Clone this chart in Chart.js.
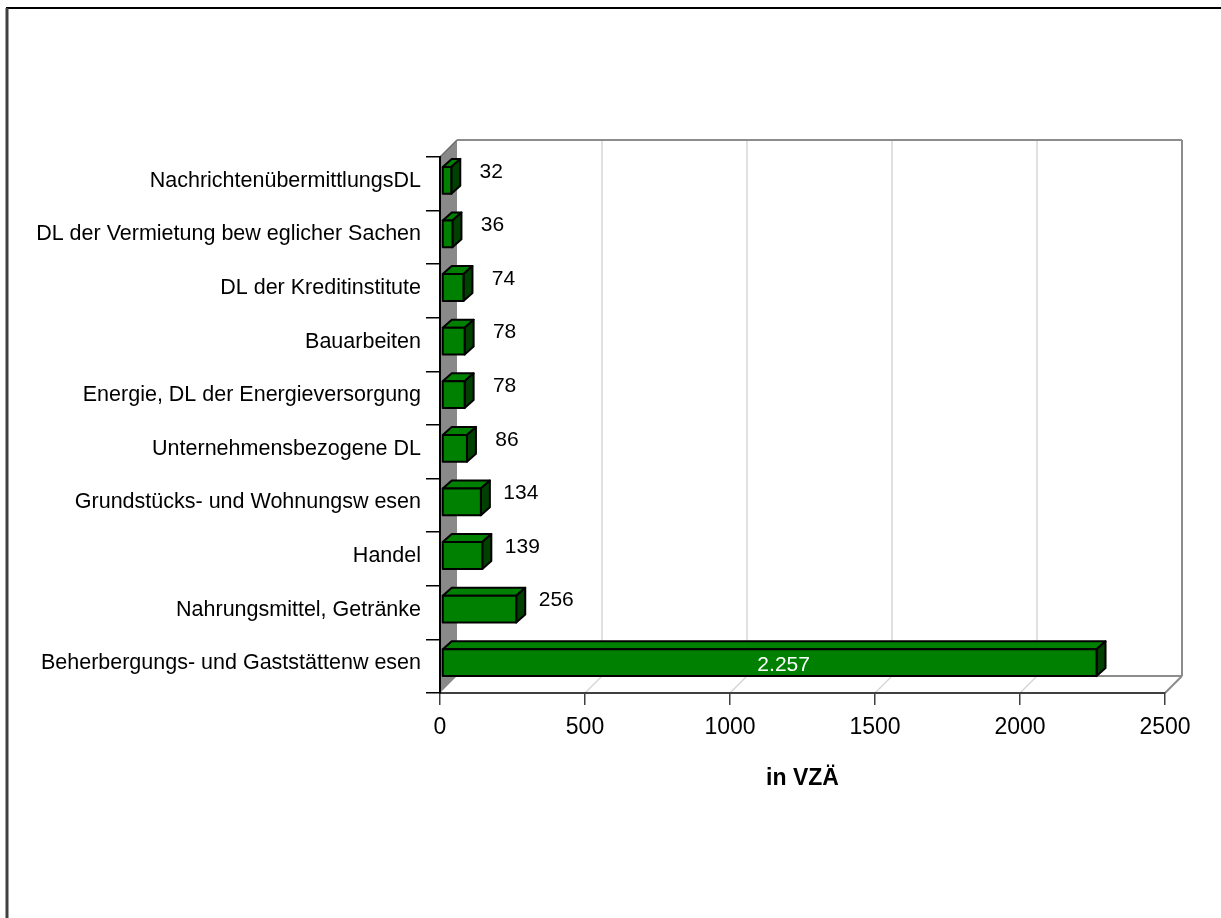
<!DOCTYPE html>
<html lang="de">
<head>
<meta charset="utf-8">
<title>Beschäftigung nach Branchen</title>
<script src="https://cdn.jsdelivr.net/npm/chart.js@4.4.1/dist/chart.umd.min.js"></script>
<style>
  html, body { margin: 0; padding: 0; background: #ffffff; }
  #chart { display: block; }
</style>
</head>
<body>
<canvas id="chart" width="1221" height="918"></canvas>
<script>
// ===== Daten =====
const branchen = [
  "NachrichtenübermittlungsDL",
  "DL der Vermietung bew eglicher Sachen",
  "DL der Kreditinstitute",
  "Bauarbeiten",
  "Energie, DL der Energieversorgung",
  "Unternehmensbezogene DL",
  "Grundstücks- und Wohnungsw esen",
  "Handel",
  "Nahrungsmittel, Getränke",
  "Beherbergungs- und Gaststättenw esen"
];
const vzae = [32, 36, 74, 78, 78, 86, 134, 139, 256, 2257];
const achseMin = 0;
const achseMax = 2500;
const achseSchritt = 500;

const FONT = "'Liberation Sans', Arial, sans-serif";
const TIEFE = 17;        // Versatz der Rückwand
const BAR_TIEFE = { dx: 9, dy: -8 };
const BAR_VERSATZ = { dx: 2, dy: -3.5 };

// Tausenderpunkt wie im deutschen Format
function formatZahl(v) {
  return String(v).replace(/\B(?=(\d{3})+(?!\d))/g, ".");
}

function linie(ctx, x1, y1, x2, y2, farbe, breite) {
  ctx.beginPath();
  ctx.moveTo(x1, y1);
  ctx.lineTo(x2, y2);
  ctx.strokeStyle = farbe;
  ctx.lineWidth = breite;
  ctx.stroke();
}

// ===== Rahmen, Wände und Boden (Pseudo-3D) =====
const rahmen3d = {
  id: "rahmen3d",
  beforeDraw(chart) {
    const { ctx, chartArea: a, scales } = chart;
    ctx.save();
    ctx.fillStyle = "#ffffff";
    ctx.fillRect(0, 0, chart.width, chart.height);

    // äußerer Rahmen
    linie(ctx, 6, 8, chart.width, 8, "#000000", 2);
    linie(ctx, 7, 8, 7, chart.height, "#404040", 3);

    const xs = scales.x;
    const ticks = xs.ticks.map((t) => xs.getPixelForValue(t.value));

    // Gitterlinien an der Rückwand und am Boden
    ticks.forEach((px, i) => {
      if (i === 0) return;
      if (i < ticks.length - 1) {
        linie(ctx, px + TIEFE, a.top - TIEFE, px + TIEFE, a.bottom - TIEFE, "#d6d6d6", 1.5);
      }
      linie(ctx, px, a.bottom, px + TIEFE, a.bottom - TIEFE, "#d6d6d6", 1.5);
    });

    // Rückwand-Kanten
    linie(ctx, a.left + TIEFE, a.top - TIEFE, a.right + TIEFE, a.top - TIEFE, "#8c8c8c", 2);
    linie(ctx, a.right + TIEFE, a.top - TIEFE, a.right + TIEFE, a.bottom - TIEFE, "#8c8c8c", 2);
    linie(ctx, a.left + TIEFE, a.bottom - TIEFE, a.right + TIEFE, a.bottom - TIEFE, "#8c8c8c", 2);
    linie(ctx, a.right, a.bottom, a.right + TIEFE, a.bottom - TIEFE, "#8c8c8c", 2);

    // linke Seitenwand
    ctx.beginPath();
    ctx.moveTo(a.left, a.top);
    ctx.lineTo(a.left + TIEFE, a.top - TIEFE);
    ctx.lineTo(a.left + TIEFE, a.bottom - TIEFE);
    ctx.lineTo(a.left, a.bottom);
    ctx.closePath();
    ctx.fillStyle = "#898989";
    ctx.fill();
    linie(ctx, a.left, a.top, a.left + TIEFE, a.top - TIEFE, "#6e6e6e", 1.5);
    ctx.restore();
  },

  // ===== Balken mit Ober- und Seitenfläche =====
  afterDatasetsDraw(chart) {
    const { ctx } = chart;
    const meta = chart.getDatasetMeta(0);
    ctx.save();
    ctx.lineJoin = "round";
    ctx.lineWidth = 2;
    ctx.strokeStyle = "#000000";

    meta.data.forEach((bar, i) => {
      const p = bar.getProps(["x", "y", "base", "height"], true);
      const x0 = p.base + BAR_VERSATZ.dx;
      const x1 = p.x + BAR_VERSATZ.dx;
      const y0 = p.y - p.height / 2 + BAR_VERSATZ.dy;
      const y1 = p.y + p.height / 2 + BAR_VERSATZ.dy;
      const dx = BAR_TIEFE.dx, dy = BAR_TIEFE.dy;

      // Oberseite
      ctx.beginPath();
      ctx.moveTo(x0, y0);
      ctx.lineTo(x0 + dx, y0 + dy);
      ctx.lineTo(x1 + dx, y0 + dy);
      ctx.lineTo(x1, y0);
      ctx.closePath();
      ctx.fillStyle = "#008000";
      ctx.fill();
      ctx.stroke();

      // Seitenfläche
      ctx.beginPath();
      ctx.moveTo(x1, y0);
      ctx.lineTo(x1 + dx, y0 + dy);
      ctx.lineTo(x1 + dx, y1 + dy);
      ctx.lineTo(x1, y1);
      ctx.closePath();
      ctx.fillStyle = "#004000";
      ctx.fill();
      ctx.stroke();

      // Vorderseite
      ctx.fillStyle = "#008000";
      ctx.fillRect(x0, y0, x1 - x0, y1 - y0);
      ctx.strokeRect(x0, y0, x1 - x0, y1 - y0);

      // Werte
      const wert = vzae[i];
      ctx.font = "21px " + FONT;
      ctx.textAlign = "center";
      ctx.textBaseline = "middle";
      if (wert > 1000) {
        ctx.fillStyle = "#ffffff";
        ctx.fillText(formatZahl(wert), (x0 + x1) / 2 + 14, p.y - 1);
      } else {
        ctx.fillStyle = "#000000";
        ctx.fillText(formatZahl(wert), x1 + 40, p.y - 12);
      }
    });
    ctx.restore();
  }
};

// ===== Chart =====
const ctx = document.getElementById("chart").getContext("2d");
new Chart(ctx, {
  type: "bar",
  data: {
    labels: branchen,
    datasets: [{
      label: "in VZÄ",
      data: vzae,
      backgroundColor: "rgba(0,0,0,0)",
      borderWidth: 0,
      categoryPercentage: 1,
      barPercentage: 0.5
    }]
  },
  options: {
    indexAxis: "y",
    responsive: false,
    devicePixelRatio: 1,
    animation: false,
    events: [],
    layout: { padding: { top: 157, right: 56, bottom: 126, left: 0 } },
    plugins: {
      legend: { display: false },
      tooltip: { enabled: false }
    },
    scales: {
      x: {
        type: "linear",
        min: achseMin,
        max: achseMax,
        afterFit(scale) { scale.height = 99; },
        ticks: {
          stepSize: achseSchritt,
          color: "#000000",
          padding: 9,
          maxRotation: 0,
          callback: (v) => String(v),
          font: { family: FONT, size: 23 }
        },
        grid: {
          drawOnChartArea: false,
          drawTicks: true,
          tickLength: 12,
          color: "#404040",
          lineWidth: 1.5
        },
        border: { display: true, color: "#404040", width: 2 },
        title: {
          display: true,
          text: "in VZÄ",
          color: "#000000",
          padding: 0,
          font: { family: FONT, size: 23, weight: "bold" }
        }
      },
      y: {
        afterFit(scale) { scale.width = 440; },
        ticks: {
          color: "#000000",
          padding: 5,
          labelOffset: -3,
          autoSkip: false,
          font: { family: FONT, size: 21.5 }
        },
        grid: {
          drawOnChartArea: false,
          drawTicks: true,
          tickLength: 14,
          color: "#000000",
          lineWidth: 1.5
        },
        border: { display: true, color: "#000000", width: 2 }
      }
    }
  },
  plugins: [rahmen3d]
});
</script>
</body>
</html>
